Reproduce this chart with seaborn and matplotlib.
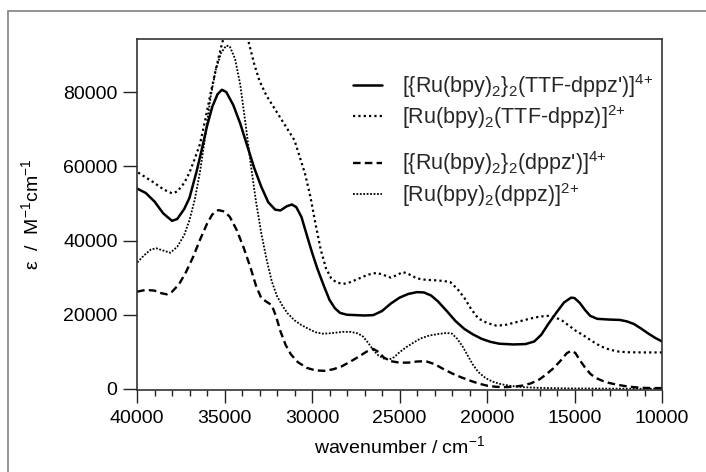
import numpy as np
import pandas as pd
import seaborn as sns
import matplotlib
matplotlib.use("Agg")
import matplotlib.pyplot as plt
from matplotlib.patches import Rectangle
from matplotlib.ticker import MultipleLocator

# ---------------- data ----------------
labels = [
    r"[{Ru(bpy)$_2$}$_2$(TTF-dppz')]$^{4{+}}$",
    r"[Ru(bpy)$_2$(TTF-dppz)]$^{2{+}}$",
    r"[{Ru(bpy)$_2$}$_2$(dppz')]$^{4{+}}$",
    r"[Ru(bpy)$_2$(dppz)]$^{2{+}}$",
]

wn_ttf_dimer = [40000, 39500, 39000, 38500, 38000, 37700, 37300, 37000, 36600, 36300, 36000, 35700,
                35400, 35150, 34900, 34500, 34100, 33700, 33300, 32900, 32500, 32100, 31800, 31450,
                31150, 30900, 30600, 30300, 30000, 29700, 29300, 29000, 28700, 28400, 28000, 27000,
                26500, 26000, 25500, 25000, 24500, 24000, 23600, 23200, 22800, 22300, 21800, 21300,
                20800, 20300, 19800, 19300, 18500, 17800, 17300, 16900, 16500, 16000, 15600, 15200,
                15000, 14700, 14400, 14100, 13700, 13000, 12400, 12000, 11600, 11200, 10800, 10400, 10000]
eps_ttf_dimer = [54000, 52800, 50500, 47300, 45300, 45800, 48500, 51500, 58500, 64500, 70800, 76000,
                 79400, 80600, 80000, 76500, 71500, 65500, 59500, 54500, 50300, 48300, 48100, 49200,
                 49700, 49000, 46300, 41500, 36800, 32500, 27500, 24000, 21800, 20500, 20000, 19800,
                 19900, 21000, 23000, 24600, 25600, 26100, 26000, 25200, 23600, 21000, 18300, 16200,
                 14700, 13500, 12700, 12200, 12000, 12100, 12800, 14600, 17500, 20800, 23300, 24600,
                 24500, 23200, 21300, 19700, 18900, 18700, 18600, 18200, 17500, 16300, 15000, 13800, 12800]

wn_ttf_mono = [40000, 39500, 39000, 38500, 38000, 37700, 37300, 37000, 36700, 36400, 36100, 35800,
               35500, 35200, 34800, 34400, 34000, 33650, 33300, 33000, 32600, 32200, 31800, 31400,
               31000, 30700, 30400, 30100, 29800, 29500, 29200, 28900, 28600, 28200, 27800, 27300,
               26800, 26300, 25900, 25500, 25200, 24800, 24500, 24000, 23500, 23000, 22500, 22100,
               21700, 21300, 20900, 20500, 20000, 19500, 19000, 18500, 18000, 17500, 17000, 16500,
               16100, 15700, 15300, 14900, 14500, 14000, 13500, 13000, 12500, 12000, 11000, 10000]
eps_ttf_mono = [58500, 57000, 55500, 53800, 52700, 53200, 55500, 58300, 62000, 66000, 72500, 79500,
                86000, 92000, 99000, 101000, 99500, 94000, 87500, 83000, 79000, 76000, 73000, 70000,
                67000, 62500, 58000, 52000, 44500, 37500, 32500, 29800, 28700, 28300, 28800, 29800,
                30800, 31300, 30700, 30000, 30600, 31500, 31000, 29800, 29400, 29300, 29100, 28800,
                27000, 24600, 21500, 19000, 17800, 17100, 17200, 17800, 18400, 19000, 19500, 19700,
                19300, 18400, 17000, 15600, 14500, 12900, 11500, 10600, 10100, 9900, 9850, 9850]

wn_dppz_dimer = [40000, 39500, 39000, 38600, 38300, 38000, 37600, 37200, 36800, 36400, 36000, 35700,
                 35350, 35000, 34700, 34300, 33900, 33500, 33200, 32900, 32600, 32300, 32050, 31800,
                 31500, 31200, 30800, 30300, 29800, 29300, 28800, 28300, 27800, 27300, 26800, 26500,
                 26200, 25900, 25500, 25000, 24500, 24000, 23500, 23000, 22500, 22000, 21500, 21000,
                 20500, 20000, 19500, 19000, 18500, 18000, 17500, 17000, 16600, 16200, 15800, 15450,
                 15200, 14950, 14700, 14400, 14100, 13800, 13400, 13000, 12500, 12000, 11500, 11000,
                 10500, 10000]
eps_dppz_dimer = [26200, 26700, 26500, 25800, 25500, 26200, 28200, 31500, 35500, 40200, 44500, 47000,
                  48200, 47800, 46400, 42800, 38000, 32500, 27800, 24500, 23500, 22600, 19500, 15500,
                  11800, 9300, 7200, 5700, 5000, 4900, 5300, 6100, 7400, 8800, 10300, 10800,
                  10000, 8500, 7500, 7100, 7100, 7400, 7500, 6700, 5400, 4200, 3200, 2300,
                  1500, 900, 600, 500, 600, 900, 1500, 2600, 4000, 5600, 7600, 9600,
                  10300, 9700, 7800, 5800, 4100, 3000, 2200, 1600, 1100, 700, 450, 300,
                  250, 250]

wn_dppz_mono = [40000, 39600, 39200, 38900, 38500, 38100, 37700, 37300, 37000, 36700, 36400, 36100,
                35800, 35500, 35200, 34900, 34700, 34400, 34100, 33800, 33500, 33200, 32900, 32600,
                32300, 32000, 31700, 31400, 31000, 30600, 30200, 29800, 29400, 29000, 28600, 28200,
                27800, 27400, 27100, 26800, 26500, 26200, 25900, 25600, 25300, 25000, 24600, 24200,
                23800, 23300, 22800, 22300, 22000, 21700, 21400, 21100, 20800, 20500, 20100, 19700,
                19200, 18600, 18000, 17000, 16000, 15000, 13000, 12000, 10000]
eps_dppz_mono = [34000, 36000, 37600, 37900, 37300, 36700, 38300, 41500, 45500, 51000, 58500, 68000,
                 78500, 86000, 90500, 92500, 92300, 89000, 82000, 71500, 60500, 50500, 42000, 35000,
                 29000, 25000, 22500, 20400, 18500, 17200, 16200, 15300, 14900, 15000, 15200, 15400,
                 15400, 15000, 14200, 12500, 10500, 9000, 8200, 7900, 8600, 9900, 11300, 12500,
                 13600, 14400, 14800, 15100, 14900, 13500, 11500, 9000, 6500, 4600, 3000, 2000,
                 1300, 800, 500, 300, 200, 150, 100, 80, 50]

x_ticks = [40000, 35000, 30000, 25000, 20000, 15000, 10000]
y_ticks = [0, 20000, 40000, 60000, 80000]

# ---------------- style ----------------
sns.set_theme(style="white")
plt.rcParams["font.family"] = ["Liberation Sans", "DejaVu Sans"]
plt.rcParams["mathtext.fontset"] = "custom"
plt.rcParams["mathtext.rm"] = "Liberation Sans"
plt.rcParams["mathtext.it"] = "Liberation Sans:italic"
plt.rcParams["mathtext.bf"] = "Liberation Sans:bold"
plt.rcParams["axes.unicode_minus"] = False

W, H = 706, 472
fig = plt.figure(figsize=(W / 100, H / 100), dpi=100)
fig.patch.set_facecolor("white")
ax = fig.add_axes([137 / W, 1 - 390 / H, 525 / W, 351 / H])

series = [
    (wn_ttf_dimer, eps_ttf_dimer, dict(lw=1.8, linestyle="-")),
    (wn_ttf_mono, eps_ttf_mono, dict(lw=1.6, linestyle=(0, (1, 1.4)))),
    (wn_dppz_dimer, eps_dppz_dimer, dict(lw=1.7, linestyle=(0, (3.2, 1.8)))),
    (wn_dppz_mono, eps_dppz_mono, dict(lw=1.3, linestyle=(0, (1, 0.9)))),
]
for (xs, ys, st), lab in zip(series, labels):
    sns.lineplot(x=xs, y=ys, ax=ax, color="black", label=lab, **st)

ax.set_xlim(40000, 10000)
ax.set_ylim(-270, 94280)
ax.set_xticks(x_ticks)
ax.set_xticklabels([str(v) for v in x_ticks])
ax.xaxis.set_minor_locator(MultipleLocator(1000))
ax.set_yticks(y_ticks)
ax.set_yticklabels([str(v) for v in y_ticks])

ax.tick_params(axis="x", which="major", direction="out", length=9.5, width=1.0,
               color="#222222", labelsize=14, pad=5, bottom=True, labelcolor="black")
ax.tick_params(axis="x", which="minor", direction="out", length=4, width=1.0,
               color="#222222", bottom=True)
ax.tick_params(axis="y", which="major", direction="out", length=10, width=1.0,
               color="#222222", labelsize=14, pad=4, left=True, labelcolor="black")

for sp in ax.spines.values():
    sp.set_visible(True)
    sp.set_color("#333333")
    sp.set_linewidth(1.2)

ax.set_xlabel(r"wavenumber / cm$^{-1}$", fontsize=14, color="black", labelpad=6)
ax.set_ylabel(r"ε  /  M$^{-1}$cm$^{-1}$", fontsize=14, color="black")
ax.yaxis.set_label_coords(-0.18, 0.5)

handles, labs = ax.get_legend_handles_labels()
common = dict(frameon=False, fontsize=15.5, handlelength=1.35, handletextpad=0.93,
              borderpad=0, borderaxespad=0, labelspacing=0.15, loc="center left")
leg1 = ax.legend(handles[:2], labs[:2], bbox_to_anchor=((353 - 137) / 525, (390 - 101.5) / 351), **common)
ax.add_artist(leg1)
ax.legend(handles[2:], labs[2:], bbox_to_anchor=((353 - 137) / 525, (390 - 179) / 351), **common)

# outer frame of the figure
fig.add_artist(Rectangle((8 / W, -0.2), 2.0, 1.2 - 11 / H, transform=fig.transFigure,
                         fill=False, edgecolor="#8a8a8a", linewidth=1.3))

fig.savefig("out.png", dpi=100)
